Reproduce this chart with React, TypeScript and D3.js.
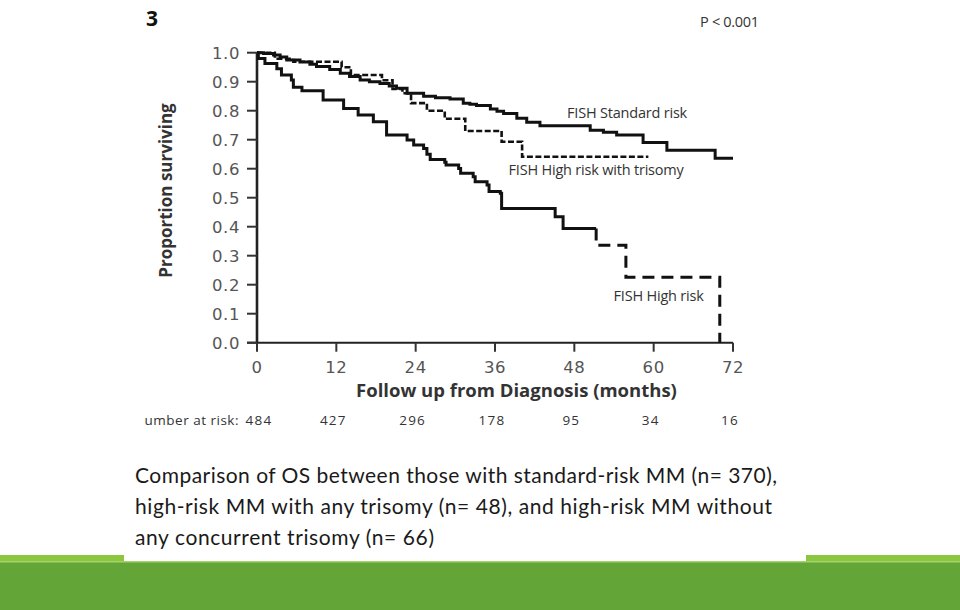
import React from "react";
import * as d3 from "d3";

// ---- data ----
const xTicks = [0, 12, 24, 36, 48, 60, 72];
const yTicks = [0, 0.1, 0.2, 0.3, 0.4, 0.5, 0.6, 0.7, 0.8, 0.9, 1.0];

const atRiskMonths = [0, 12, 24, 36, 48, 60, 72];
const atRiskCounts = [484, 427, 296, 178, 95, 34, 16];

// FISH Standard risk (solid)
const stdTime = [0, 1.0, 2.5, 3.5, 4.5, 6.5, 8, 9, 11, 12.6, 14, 15.6, 17, 18.6, 20, 21.1, 22.7, 25.2, 27, 29.2, 31.2, 32.2, 33.2, 35.3, 36.3, 37.3, 39.3, 40.8, 42.8, 50.4, 52.4, 54.4, 58.4, 62.0, 69.3, 72];
const stdSurv = [1.0, 0.997, 0.992, 0.985, 0.975, 0.968, 0.96, 0.952, 0.942, 0.929, 0.918, 0.906, 0.9, 0.894, 0.885, 0.877, 0.86, 0.85, 0.845, 0.84, 0.826, 0.822, 0.818, 0.806, 0.798, 0.79, 0.774, 0.76, 0.748, 0.733, 0.726, 0.716, 0.69, 0.664, 0.636, 0.636];

// FISH High risk with trisomy (short dashes)
const triTime = [0, 2.7, 5.5, 12.8, 14.2, 18.9, 20.5, 22, 23.3, 25.7, 28.4, 31.5, 37.0, 40.1, 59.2];
const triSurv = [1.0, 0.979, 0.969, 0.95, 0.923, 0.905, 0.875, 0.86, 0.826, 0.8, 0.772, 0.73, 0.693, 0.641, 0.641];

// FISH High risk (solid, then long dashes in the tail)
const hrTime = [0, 0.2, 1.2, 3.0, 3.7, 5.2, 5.5, 6.8, 10, 13.1, 15.3, 17.6, 19.6, 22.7, 23.7, 25.2, 25.7, 26.2, 28.4, 28.6, 30.5, 30.8, 32.7, 33.0, 34.8, 35.1, 36.8, 37.0, 45.1, 46.3, 51.3];
const hrSurv = [1.0, 0.98, 0.963, 0.945, 0.923, 0.906, 0.881, 0.869, 0.837, 0.808, 0.785, 0.762, 0.716, 0.699, 0.682, 0.67, 0.65, 0.632, 0.622, 0.613, 0.601, 0.584, 0.572, 0.555, 0.544, 0.521, 0.515, 0.463, 0.434, 0.394, 0.394];
const hrTailTime = [51.3, 51.3, 55.8, 70, 70];
const hrTailSurv = [0.394, 0.336, 0.226, 0.226, 0];

const captionLines = [
  "Comparison of OS between those with standard-risk MM (n= 370),",
  "high-risk MM with any trisomy (n= 48), and high-risk MM without",
  "any concurrent trisomy (n= 66)",
];
const captionWidths = [642, 637, 299];

export default function App() {
  const x = d3.scaleLinear().domain([0, 72]).range([257, 733]);
  const y = d3.scaleLinear().domain([0, 1]).range([342.7, 52.7]);

  const line = d3
    .line<[number, number]>()
    .x((d) => x(d[0]))
    .y((d) => y(d[1]))
    .curve(d3.curveStepAfter);

  const zip = (t: number[], s: number[]) => t.map((v, i) => [v, s[i]] as [number, number]);

  const tickFont = "DejaVu Sans, Verdana, sans-serif";
  const labFont = "'Open Sans', sans-serif";

  return (
    <div style={{ position: "fixed", left: 0, top: 0, width: 960, height: 610, background: "#fff" }}>
      <svg width={960} height={610} style={{ display: "block" }}>
        <rect x={0} y={0} width={960} height={610} fill="#fff" />

        {/* panel letter and p-value */}
        <text x={146} y={26} fontFamily={labFont} fontWeight={700} fontSize={21} fill="#111">3</text>
        <text x={700} y={27} fontFamily={labFont} fontSize={14.5} letterSpacing={-0.3} fill="#333">P &lt; 0.001</text>

        {/* axes */}
        <line x1={x(0)} x2={x(0)} y1={y(1)} y2={y(0)} stroke="#222" strokeWidth={2.6} />
        <line x1={x(0) - 10} x2={x(72)} y1={y(0)} y2={y(0)} stroke="#222" strokeWidth={2} />
        {yTicks.map((t) => (
          <g key={"y" + t}>
            <line x1={x(0) - 10} x2={x(0)} y1={y(t)} y2={y(t)} stroke="#333" strokeWidth={2} />
            <text x={240} y={y(t) + 6} textAnchor="end" fontFamily={tickFont} fontSize={16.5} letterSpacing={0.6} fill="#555">
              {t.toFixed(1)}
            </text>
          </g>
        ))}
        {xTicks.map((t) => (
          <g key={"x" + t}>
            <line x1={x(t)} x2={x(t)} y1={y(0)} y2={y(0) + 9} stroke="#333" strokeWidth={2} />
            <text x={x(t)} y={373} textAnchor="middle" fontFamily={tickFont} fontSize={16.5} letterSpacing={0.6} fill="#555">
              {t}
            </text>
          </g>
        ))}

        {/* axis titles */}
        <text
          transform={`translate(172,190.5) rotate(-90)`}
          textAnchor="middle"
          fontFamily={labFont}
          fontWeight={700}
          fontSize={17}
          fill="#333"
        >
          Proportion surviving
        </text>
        <text x={516.5} y={397} textAnchor="middle" fontFamily={labFont} fontWeight={700} fontSize={18.5} fill="#333">
          Follow up from Diagnosis (months)
        </text>

        {/* curves */}
        <path d={line(zip(stdTime, stdSurv)) || ""} fill="none" stroke="#111" strokeWidth={3} />
        <path d={line(zip(triTime, triSurv)) || ""} fill="none" stroke="#111" strokeWidth={2.6} strokeDasharray="6,2.5" />
        <path d={line(zip(hrTime, hrSurv)) || ""} fill="none" stroke="#111" strokeWidth={3} />
        <path d={line(zip(hrTailTime, hrTailSurv)) || ""} fill="none" stroke="#111" strokeWidth={3} strokeDasharray="12,7" />

        {/* curve labels */}
        <text x={567} y={118} fontFamily={labFont} fontSize={14.5} letterSpacing={-0.2} fill="#333">FISH Standard risk</text>
        <text x={508.5} y={175} fontFamily={labFont} fontSize={14.5} letterSpacing={-0.2} fill="#333">FISH High risk with trisomy</text>
        <text x={613.5} y={301} fontFamily={labFont} fontSize={14.5} letterSpacing={-0.2} fill="#333">FISH High risk</text>

        {/* number at risk */}
        <text x={239} y={425} textAnchor="end" fontFamily={labFont} fontSize={13.5} letterSpacing={0.5} fill="#333">
          umber at risk:
        </text>
        {atRiskMonths.map((m, i) => (
          <text key={"r" + m} x={x(m) + (i === 0 ? 2 : -3)} y={425} textAnchor="middle" fontFamily={labFont} fontSize={13.5} letterSpacing={1.2} fill="#333">
            {atRiskCounts[i]}
          </text>
        ))}

        {/* caption */}
        {captionLines.map((l, i) => (
          <text
            key={"c" + i}
            x={135}
            y={483 + i * 31}
            fontFamily="Lato, 'Open Sans', sans-serif"
            fontSize={21}
            fill="#1a1a1a"
            textLength={captionWidths[i]}
            lengthAdjust="spacing"
          >
            {l}
          </text>
        ))}

        {/* green footer */}
        <rect x={0} y={555} width={124} height={7} fill="#8cc63e" />
        <rect x={806} y={555} width={154} height={7} fill="#8cc63e" />
        <rect x={0} y={561} width={960} height={49} fill="#64a538" />
        <rect x={0} y={561} width={960} height={1.5} fill="#a6d16e" />
      </svg>
    </div>
  );
}
